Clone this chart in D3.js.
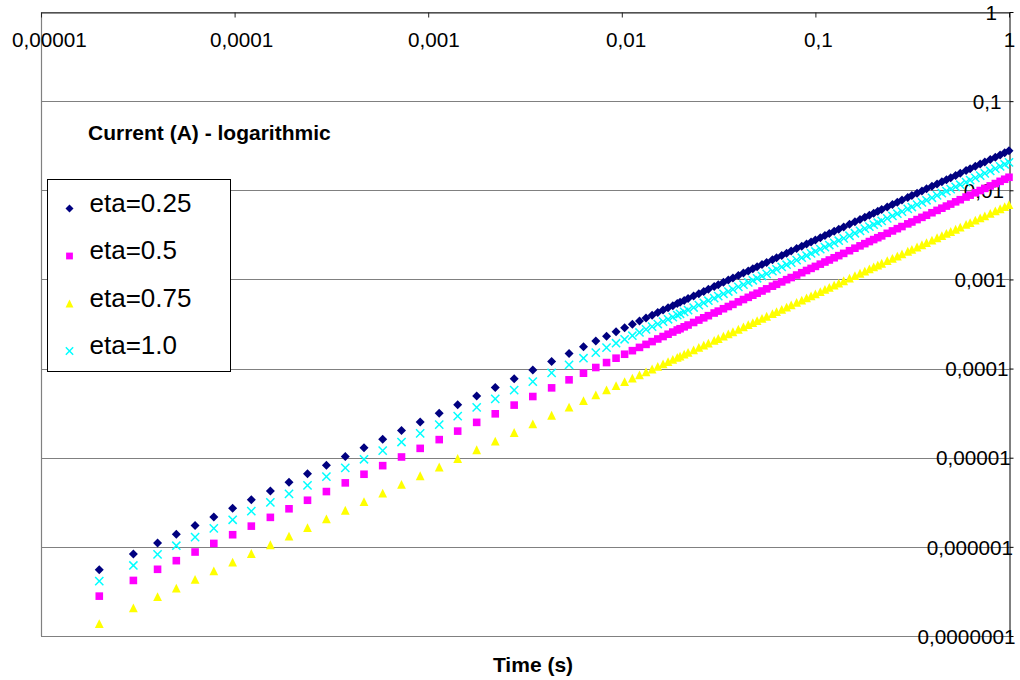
<!DOCTYPE html>
<html>
<head>
<meta charset="utf-8">
<script src="https://cdn.jsdelivr.net/npm/d3@7"></script>
<style>
body { margin: 0; background: #fff; }
svg { display: block; font-family: "Liberation Sans", Arial, sans-serif; }
</style>
</head>
<body>
<svg id="chart" width="1020" height="680"></svg>
<script>
'use strict';

// time (s), shared by all four series
const time = [
    2e-5, 3e-5, 4e-5, 5e-5, 6.25e-5, 7.81e-5, 9.77e-5,
    1.22e-4, 1.53e-4, 1.91e-4, 2.38e-4, 2.98e-4, 3.73e-4, 4.66e-4, 5.82e-4, 7.28e-4, 9.09e-4,
    1.14e-3, 1.42e-3, 1.78e-3, 2.22e-3, 2.78e-3, 3.47e-3, 4.34e-3, 5.34e-3, 6.34e-3, 7.34e-3, 8.34e-3, 9.34e-3,
    1.034e-2, 1.134e-2, 1.234e-2, 1.334e-2, 1.434e-2, 1.534e-2, 1.634e-2, 1.734e-2, 1.834e-2, 1.934e-2,
    0.02, 0.021, 0.022, 0.0235, 0.025, 0.0265, 0.028, 0.03, 0.0315, 0.0335, 0.0355, 0.0375, 0.04, 0.0425,
    0.045, 0.0475, 0.05, 0.053, 0.056, 0.06, 0.063, 0.067, 0.071, 0.075, 0.08, 0.085, 0.09, 0.095,
    0.1, 0.106, 0.112, 0.118, 0.125, 0.132, 0.14, 0.15, 0.16, 0.17, 0.18, 0.19, 0.2, 0.21, 0.22, 0.235,
    0.25, 0.265, 0.28, 0.3, 0.315, 0.335, 0.355, 0.375, 0.4, 0.425, 0.45, 0.475, 0.5, 0.53, 0.56, 0.6,
    0.63, 0.67, 0.71, 0.75, 0.8, 0.85, 0.9, 0.95, 1
];

// current (A)
const eta025 = [
    5.54e-7, 8.31e-7, 1.108e-6, 1.385e-6, 1.731e-6, 2.163e-6, 2.706e-6,
    3.379e-6, 4.238e-6, 5.291e-6, 6.593e-6, 8.255e-6, 1.033e-5, 1.291e-5, 1.612e-5, 2.017e-5, 2.518e-5,
    3.158e-5, 3.933e-5, 4.931e-5, 6.149e-5, 7.701e-5, 9.612e-5, 1.202e-4, 1.479e-4, 1.756e-4, 2.033e-4, 2.31e-4, 2.587e-4,
    2.864e-4, 3.141e-4, 3.418e-4, 3.695e-4, 3.972e-4, 4.249e-4, 4.526e-4, 4.803e-4, 5.08e-4, 5.357e-4,
    5.54e-4, 5.817e-4, 6.094e-4, 6.51e-4, 6.925e-4, 7.341e-4, 7.756e-4, 8.31e-4, 8.726e-4, 9.28e-4, 9.834e-4, 1.039e-3, 1.108e-3, 1.177e-3,
    1.247e-3, 1.316e-3, 1.385e-3, 1.468e-3, 1.551e-3, 1.662e-3, 1.745e-3, 1.856e-3, 1.967e-3, 2.078e-3, 2.216e-3, 2.355e-3, 2.493e-3, 2.632e-3,
    2.77e-3, 2.936e-3, 3.102e-3, 3.269e-3, 3.463e-3, 3.656e-3, 3.878e-3, 4.155e-3, 4.432e-3, 4.709e-3, 4.986e-3, 5.263e-3, 5.54e-3, 5.817e-3, 6.094e-3, 6.51e-3,
    6.925e-3, 7.341e-3, 7.756e-3, 8.31e-3, 8.726e-3, 9.28e-3, 9.834e-3, 1.039e-2, 1.108e-2, 1.177e-2, 1.247e-2, 1.316e-2, 1.385e-2, 1.468e-2, 1.551e-2, 1.662e-2,
    1.745e-2, 1.856e-2, 1.967e-2, 2.078e-2, 2.216e-2, 2.355e-2, 2.493e-2, 2.632e-2, 2.77e-2
];
const eta05 = [
    2.8e-7, 4.2e-7, 5.6e-7, 7.0e-7, 8.75e-7, 1.093e-6, 1.368e-6,
    1.708e-6, 2.142e-6, 2.674e-6, 3.332e-6, 4.172e-6, 5.222e-6, 6.524e-6, 8.148e-6, 1.019e-5, 1.273e-5,
    1.596e-5, 1.988e-5, 2.492e-5, 3.108e-5, 3.892e-5, 4.858e-5, 6.076e-5, 7.476e-5, 8.876e-5, 1.028e-4, 1.168e-4, 1.308e-4,
    1.448e-4, 1.588e-4, 1.728e-4, 1.868e-4, 2.008e-4, 2.148e-4, 2.288e-4, 2.428e-4, 2.568e-4, 2.708e-4,
    2.8e-4, 2.94e-4, 3.08e-4, 3.29e-4, 3.5e-4, 3.71e-4, 3.92e-4, 4.2e-4, 4.41e-4, 4.69e-4, 4.97e-4, 5.25e-4, 5.6e-4, 5.95e-4,
    6.3e-4, 6.65e-4, 7.0e-4, 7.42e-4, 7.84e-4, 8.4e-4, 8.82e-4, 9.38e-4, 9.94e-4, 1.05e-3, 1.12e-3, 1.19e-3, 1.26e-3, 1.33e-3,
    1.4e-3, 1.484e-3, 1.568e-3, 1.652e-3, 1.75e-3, 1.848e-3, 1.96e-3, 2.1e-3, 2.24e-3, 2.38e-3, 2.52e-3, 2.66e-3, 2.8e-3, 2.94e-3, 3.08e-3, 3.29e-3,
    3.5e-3, 3.71e-3, 3.92e-3, 4.2e-3, 4.41e-3, 4.69e-3, 4.97e-3, 5.25e-3, 5.6e-3, 5.95e-3, 6.3e-3, 6.65e-3, 7.0e-3, 7.42e-3, 7.84e-3, 8.4e-3,
    8.82e-3, 9.38e-3, 9.94e-3, 1.05e-2, 1.12e-2, 1.19e-2, 1.26e-2, 1.33e-2, 1.4e-2
];
const eta075 = [
    1.38e-7, 2.07e-7, 2.76e-7, 3.45e-7, 4.31e-7, 5.39e-7, 6.74e-7,
    8.42e-7, 1.056e-6, 1.318e-6, 1.642e-6, 2.056e-6, 2.574e-6, 3.215e-6, 4.016e-6, 5.023e-6, 6.272e-6,
    7.87e-6, 9.8e-6, 1.228e-5, 1.532e-5, 1.918e-5, 2.394e-5, 2.995e-5, 3.685e-5, 4.375e-5, 5.065e-5, 5.755e-5, 6.445e-5,
    7.13e-5, 7.82e-5, 8.51e-5, 9.2e-5, 9.89e-5, 1.058e-4, 1.127e-4, 1.196e-4, 1.265e-4, 1.334e-4,
    1.38e-4, 1.449e-4, 1.518e-4, 1.622e-4, 1.725e-4, 1.829e-4, 1.932e-4, 2.07e-4, 2.174e-4, 2.312e-4, 2.45e-4, 2.588e-4, 2.76e-4, 2.933e-4,
    3.105e-4, 3.278e-4, 3.45e-4, 3.657e-4, 3.864e-4, 4.14e-4, 4.347e-4, 4.623e-4, 4.899e-4, 5.175e-4, 5.52e-4, 5.865e-4, 6.21e-4, 6.555e-4,
    6.9e-4, 7.31e-4, 7.73e-4, 8.14e-4, 8.63e-4, 9.11e-4, 9.66e-4, 1.035e-3, 1.104e-3, 1.173e-3, 1.242e-3, 1.311e-3, 1.38e-3, 1.449e-3, 1.518e-3, 1.622e-3,
    1.725e-3, 1.829e-3, 1.932e-3, 2.07e-3, 2.174e-3, 2.312e-3, 2.45e-3, 2.588e-3, 2.76e-3, 2.933e-3, 3.105e-3, 3.278e-3, 3.45e-3, 3.657e-3, 3.864e-3, 4.14e-3,
    4.347e-3, 4.623e-3, 4.899e-3, 5.175e-3, 5.52e-3, 5.865e-3, 6.21e-3, 6.555e-3, 6.9e-3
];
const eta10 = [
    4.12e-7, 6.18e-7, 8.24e-7, 1.03e-6, 1.288e-6, 1.609e-6, 2.013e-6,
    2.513e-6, 3.152e-6, 3.935e-6, 4.903e-6, 6.139e-6, 7.684e-6, 9.6e-6, 1.199e-5, 1.5e-5, 1.873e-5,
    2.348e-5, 2.925e-5, 3.667e-5, 4.573e-5, 5.727e-5, 7.148e-5, 8.94e-5, 1.1e-4, 1.306e-4, 1.512e-4, 1.718e-4, 1.924e-4,
    2.13e-4, 2.336e-4, 2.542e-4, 2.748e-4, 2.954e-4, 3.16e-4, 3.366e-4, 3.572e-4, 3.778e-4, 3.984e-4,
    4.12e-4, 4.326e-4, 4.532e-4, 4.841e-4, 5.15e-4, 5.459e-4, 5.768e-4, 6.18e-4, 6.489e-4, 6.901e-4, 7.313e-4, 7.725e-4, 8.24e-4, 8.755e-4,
    9.27e-4, 9.785e-4, 1.03e-3, 1.092e-3, 1.154e-3, 1.236e-3, 1.298e-3, 1.38e-3, 1.463e-3, 1.545e-3, 1.648e-3, 1.751e-3, 1.854e-3, 1.957e-3,
    2.06e-3, 2.184e-3, 2.307e-3, 2.431e-3, 2.575e-3, 2.719e-3, 2.884e-3, 3.09e-3, 3.296e-3, 3.502e-3, 3.708e-3, 3.914e-3, 4.12e-3, 4.326e-3, 4.532e-3, 4.841e-3,
    5.15e-3, 5.459e-3, 5.768e-3, 6.18e-3, 6.489e-3, 6.901e-3, 7.313e-3, 7.725e-3, 8.24e-3, 8.755e-3, 9.27e-3, 9.785e-3, 1.03e-2, 1.092e-2, 1.154e-2, 1.236e-2,
    1.298e-2, 1.38e-2, 1.463e-2, 1.545e-2, 1.648e-2, 1.751e-2, 1.854e-2, 1.957e-2, 2.06e-2
];

const seriesNames = ['eta=0.25', 'eta=0.5', 'eta=0.75', 'eta=1.0'];
const xTickValues = [1e-5, 1e-4, 1e-3, 1e-2, 1e-1, 1];
const xTickLabels = ['0,00001', '0,0001', '0,001', '0,01', '0,1', '1'];
const yTickValues = [1e-7, 1e-6, 1e-5, 1e-4, 1e-3, 1e-2, 1e-1, 1];
const yTickLabels = ['0,0000001', '0,000001', '0,00001', '0,0001', '0,001', '0,01', '0,1', '1'];

// marker shapes, size = half width squared
const diamond = { draw: function(ctx, size) {
    const r = Math.sqrt(size);
    ctx.moveTo(0, -r); ctx.lineTo(r, 0); ctx.lineTo(0, r); ctx.lineTo(-r, 0); ctx.closePath();
} };
const square = { draw: function(ctx, size) {
    const r = Math.sqrt(size);
    ctx.rect(-r, -r, 2 * r, 2 * r);
} };
const triangle = { draw: function(ctx, size) {
    const r = Math.sqrt(size);
    ctx.moveTo(0, -r); ctx.lineTo(r, r); ctx.lineTo(-r, r); ctx.closePath();
} };
const cross = { draw: function(ctx, size) {
    const r = Math.sqrt(size);
    ctx.moveTo(-r, -r); ctx.lineTo(r, r); ctx.moveTo(r, -r); ctx.lineTo(-r, r);
} };

const series = [
    {name: seriesNames[0], values: eta025, type: diamond, r: 4.5, fill: '#000080', stroke: 'none'},
    {name: seriesNames[1], values: eta05, type: square, r: 3.8, fill: '#ff00ff', stroke: 'none'},
    {name: seriesNames[2], values: eta075, type: triangle, r: 4.4, fill: '#ffff00', stroke: 'none'},
    {name: seriesNames[3], values: eta10, type: cross, r: 4.1, fill: 'none', stroke: '#00ffff'}
];

var margin = {top: 12, right: 11, bottom: 44, left: 41},
    width = 1020 - margin.left - margin.right,
    height = 680 - margin.top - margin.bottom;

var x = d3.scaleLog().domain([1e-5, 1]).range([0, width]);
var y = d3.scaleLog().domain([1e-7, 1]).range([height, 0]);

var svg = d3.select('#chart');
svg.append('rect').attr('width', 1020).attr('height', 680).attr('fill', '#fff');

var chart = svg.append('g')
    .attr('transform', 'translate(' + margin.left + ',' + margin.top + ')');

// Gridlines
chart.append('g')
    .selectAll('line')
    .data(yTickValues)
    .enter().append('line')
    .attr('x1', 0).attr('x2', width)
    .attr('y1', function(d) { return Math.round(y(d)) + 0.5; })
    .attr('y2', function(d) { return Math.round(y(d)) + 0.5; })
    .attr('stroke', '#808080')
    .attr('stroke-width', 1.2);

// left border
chart.append('line')
    .attr('x1', 0.5).attr('x2', 0.5).attr('y1', 0).attr('y2', height)
    .attr('stroke', '#808080').attr('stroke-width', 1.2);

// X Axis on top, ticks pointing down
var xAxis = chart.append('g')
    .attr('class', 'x axis')
    .attr('transform', 'translate(0,0.5)')
    .call(d3.axisBottom(x).tickValues(xTickValues).tickSize(5).tickSizeOuter(0)
        .tickFormat(function(d, i) { return xTickLabels[i]; }));
xAxis.select('.domain').attr('stroke', '#222');
xAxis.selectAll('.tick line').attr('stroke', '#222');
xAxis.selectAll('text')
    .attr('y', 34)
    .attr('dy', 0)
    .attr('dx', function(d, i) { return (xTickLabels[i].length - 1) * 1.3; })
    .attr('fill', '#000')
    .style('font-size', '20.7px')
    .style('font-family', '"Liberation Sans", Arial, sans-serif');

// Y Axis on the right, labels sit over the plot
var yAxis = chart.append('g')
    .attr('class', 'y axis')
    .attr('transform', 'translate(' + (width + 0.5) + ',0)')
    .call(d3.axisRight(y).tickValues(yTickValues).tickSize(4).tickSizeOuter(0)
        .tickFormat(function(d, i) { return yTickLabels[i]; }));
yAxis.select('.domain').attr('stroke', '#000');
yAxis.selectAll('.tick line').attr('stroke', '#000');
yAxis.selectAll('text')
    .attr('x', function(d, i) { return -12.5 + (yTickLabels[i].length - 1) * 2.3; })
    .attr('dy', '0.35em')
    .style('text-anchor', 'end')
    .attr('fill', '#000')
    .style('font-size', '20.7px')
    .style('font-family', '"Liberation Sans", Arial, sans-serif');

// Points
series.forEach(function(s) {
    var sym = d3.symbol().type(s.type).size(s.r * s.r);
    chart.append('g')
        .selectAll('path')
        .data(time.map(function(t, i) { return [t, s.values[i]]; }))
        .enter().append('path')
        .attr('transform', function(d) { return 'translate(' + x(d[0]) + ',' + y(d[1]) + ')'; })
        .attr('d', sym)
        .attr('fill', s.fill)
        .attr('stroke', s.stroke)
        .attr('stroke-width', 1.5);
});

// Axis titles
svg.append('text')
    .attr('x', 88).attr('y', 140)
    .style('font-size', '21px').style('font-weight', 'bold')
    .text('Current (A) - logarithmic');

svg.append('text')
    .attr('x', 533).attr('y', 672)
    .style('text-anchor', 'middle')
    .style('font-size', '21px').style('font-weight', 'bold')
    .text('Time (s)');

// Legend
var legend = svg.append('g').attr('transform', 'translate(47.5,179.5)');
legend.append('rect')
    .attr('width', 183).attr('height', 192)
    .attr('fill', '#fff').attr('stroke', '#000').attr('stroke-width', 1);
series.forEach(function(s, i) {
    var sym = d3.symbol().type(s.type).size(s.r * s.r * 0.8);
    legend.append('path')
        .attr('transform', 'translate(22,' + (29 + i * 47.5) + ')')
        .attr('d', sym)
        .attr('fill', s.fill)
        .attr('stroke', s.stroke)
        .attr('stroke-width', 1.5);
    legend.append('text')
        .attr('x', 42).attr('y', 32 + i * 47.5)
        .style('font-size', '26px')
        .text(s.name);
});
</script>
</body>
</html>
